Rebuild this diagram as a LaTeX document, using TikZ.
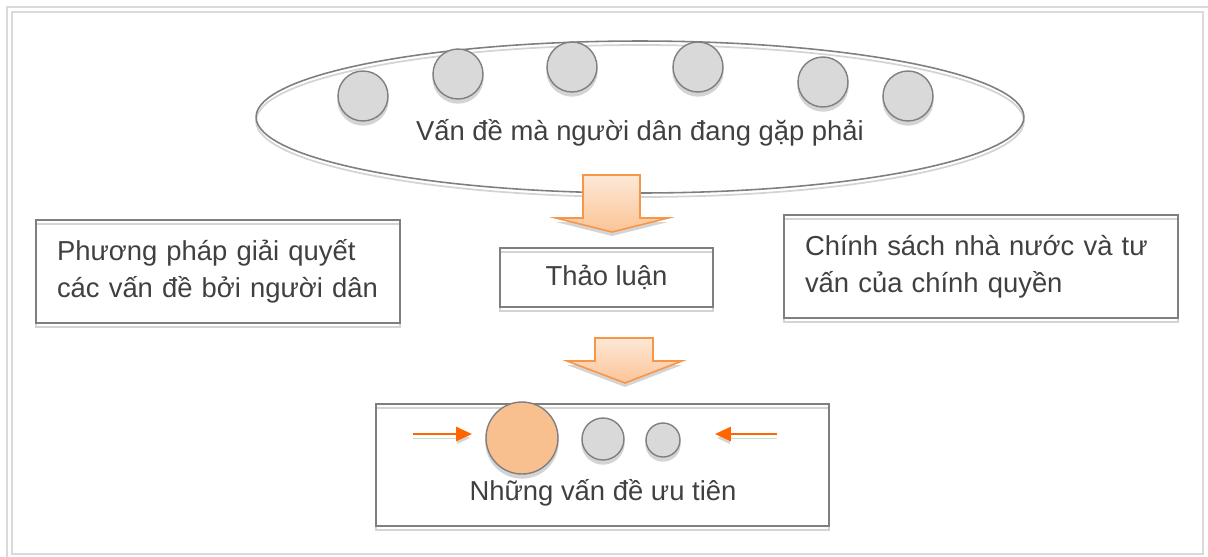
\documentclass[tikz,border=0pt]{standalone}
\usepackage{fontspec}
\setmainfont{Liberation Sans}
\usetikzlibrary{shapes.geometric, arrows.meta}

\definecolor{linegray}{HTML}{7F7F7F}
\definecolor{shadowgray}{HTML}{D4D4D4}
\definecolor{framegray}{HTML}{D9D9D9}
\definecolor{dotfill}{HTML}{D9D9D9}
\definecolor{peach}{HTML}{F9C08F}
\definecolor{arrowline}{HTML}{F79646}
\definecolor{arrowtop}{HTML}{FDE8D7}
\definecolor{arrowbottom}{HTML}{FBC496}
\definecolor{pointer}{HTML}{FF6600}
\definecolor{textgray}{HTML}{404040}

\tikzset{
  shadowed/.style={preaction={draw=shadowgray, line width=1pt, transform canvas={yshift=-0.08cm}}},
  dotshadow/.style={preaction={draw=shadowgray, fill=shadowgray, transform canvas={yshift=-0.08cm}}},
  box/.style={draw=linegray, line width=1.1pt, shadowed, inner sep=0pt},
  textbox/.style={box, align=left, inner xsep=0.42cm, text=textgray},
  dot/.style={circle, draw=linegray, line width=0.8pt, fill=dotfill, inner sep=0pt, minimum size=1cm, dotshadow},
  label/.style={text=textgray},
  blockarrow/.style={draw=arrowline, line width=0.9pt, top color=arrowtop, bottom color=arrowbottom,
    preaction={fill=shadowgray, transform canvas={yshift=-0.08cm}}},
  pointerarrow/.style={draw=pointer, line width=1.4pt, -{Triangle[length=9pt, width=8pt]},
    preaction={draw=shadowgray, transform canvas={yshift=-0.08cm}}}
}

\begin{document}
\begin{tikzpicture}[x=0.02cm, y=-0.02cm, font=\fontsize{15.6}{21}\selectfont]

\useasboundingbox (0,0) rectangle (1208,556);
\clip (0,0) rectangle (1208,556);

% frame
\draw[framegray, line width=1.2pt] (7,7) rectangle (1230,580);
\draw[framegray, line width=1.2pt] (12,12) rectangle (1203,554);

% problems
\node[ellipse, draw=linegray, line width=0.9pt, shadowed, minimum width=15.36cm, minimum height=3.04cm] (problems) at (640,117) {};
\node[label] (problemstext) at (640,133) {Vấn đề mà người dân đang gặp phải};
\node[dot] (p1) at (363,96) {};
\node[dot] (p2) at (458,74) {};
\node[dot] (p3) at (572,67) {};
\node[dot] (p4) at (698,67) {};
\node[dot] (p5) at (823,82) {};
\node[dot] (p6) at (908,96) {};

% arrow into discussion
\draw[blockarrow] (583,175) -- (640,175) -- (640,218) -- (668,218) -- (612,232) -- (556,218) -- (583,218) -- cycle;

% boxes in the middle row
\node[textbox, text width=6.44cm, minimum height=2.06cm] (methods) at (218,271.5)
  {Phương pháp giải quyết\\các vấn đề bởi người dân};
\node[box, minimum width=4.26cm, minimum height=1.18cm, text=textgray] (discuss) at (606.5,277.5) {Thảo luận};
\node[textbox, text width=7.04cm, minimum height=2.06cm] (policy) at (981,266.5)
  {Chính sách nhà nước và tư\\vấn của chính quyền};

% arrow into priorities
\draw[blockarrow] (595,338) -- (653,338) -- (653,361) -- (682,361) -- (625,383) -- (567,361) -- (595,361) -- cycle;

% priorities
\node[box, minimum width=9.06cm, minimum height=2.44cm] (priority) at (602.5,465) {};
\node[circle, draw=linegray, line width=0.8pt, fill=peach, inner sep=0pt, minimum size=1.44cm, dotshadow] (top) at (522,438) {};
\node[dot, minimum size=0.84cm] (second) at (603,439) {};
\node[dot, minimum size=0.68cm] (third) at (663,440) {};
\node[label] (prioritytext) at (603,493) {Những vấn đề ưu tiên};

\coordinate (leftstart) at (413,434);
\coordinate (leftend) at (472,434);
\coordinate (rightstart) at (777,434);
\coordinate (rightend) at (715,434);
\draw[pointerarrow] (leftstart) -- (leftend);
\draw[pointerarrow] (rightstart) -- (rightend);

\end{tikzpicture}
\end{document}
